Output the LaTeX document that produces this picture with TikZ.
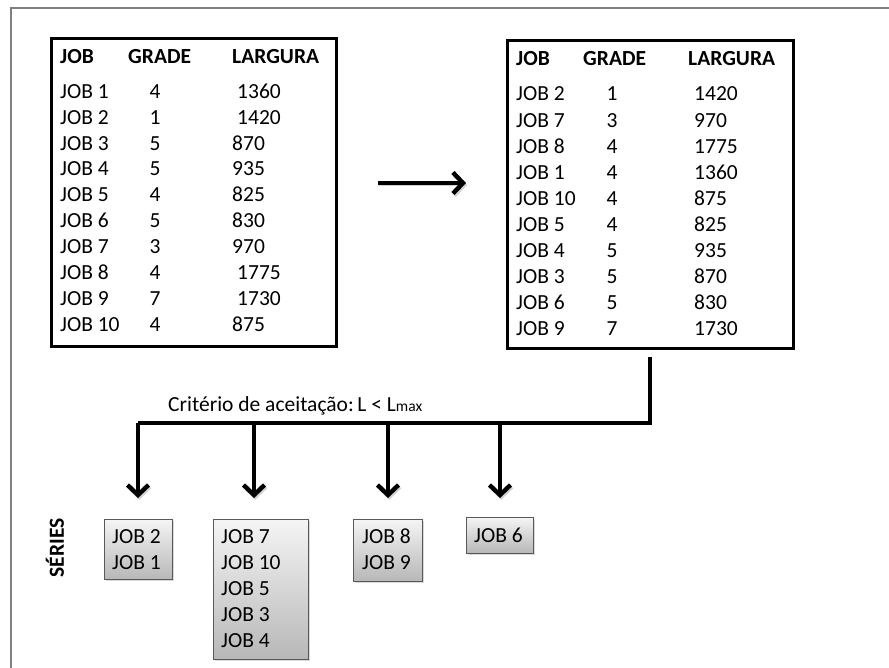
\documentclass[tikz,border=0pt]{standalone}
\usepackage{fontspec}
\setmainfont{Carlito}
\usetikzlibrary{arrows.meta,shadows}
\begin{document}
\begin{tikzpicture}[x=1pt,y=-1pt,
  txt/.style={inner sep=0pt, font=\fontsize{21.5}{24}\selectfont},
  hdr/.style={txt, font=\fontsize{21.5}{24}\selectfont\bfseries},
  tablebox/.style={draw=black, line width=3pt, inner sep=0pt},
  seriebox/.style={draw=black!65, line width=1pt, inner sep=0pt,
     top color=black!4, bottom color=black!28,
     drop shadow={shadow xshift=1.5pt, shadow yshift=-1.5pt, opacity=0.25, fill=black!60}},
  conn/.style={line width=4pt, black,
     preaction={draw=black, opacity=0.18, transform canvas={shift={(1.2pt,-1.8pt)}}}},
  arr/.style={conn, -{Straight Barb[length=10pt,width=21pt,line width=4.4pt]}},
  frame/.style={draw=black!50, line width=1.3pt}
]
\useasboundingbox (0,0) rectangle (889,668);
\draw[frame] (11,668) -- (11,8) -- (889,8);

% left table
\node[tablebox, minimum width=285pt, minimum height=308pt] (L) at (193.5,193) {};
\node[hdr, anchor=base west] (Lh1) at (60,63.3) {JOB};
\node[hdr, anchor=base west] (Lh2) at (128,63.3) {GRADE};
\node[hdr, anchor=base west] (Lh3) at (232,63.3) {LARGURA};
\foreach \j/\g/\w/\wx [count=\i from 0] in {JOB 1/4/1360/237, JOB 2/1/1420/237, JOB 3/5/870/232, JOB 4/5/935/232, JOB 5/4/825/232, JOB 6/5/830/232, JOB 7/3/970/232, JOB 8/4/1775/237, JOB 9/7/1730/237, JOB 10/4/875/232}{
  \node[txt, anchor=base west] (La\i) at (60,98.3+25.9*\i) {\j};
  \node[txt, anchor=base] (Lb\i) at (155,98.3+25.9*\i) {\g};
  \node[txt, anchor=base west] (Lc\i) at (\wx,98.3+25.9*\i) {\w};
}

% right table
\node[tablebox, minimum width=286pt, minimum height=308pt] (R) at (650,195) {};
\node[hdr, anchor=base west] (Rh1) at (516,65.7) {JOB};
\node[hdr, anchor=base west] (Rh2) at (583,65.7) {GRADE};
\node[hdr, anchor=base west] (Rh3) at (688,65.7) {LARGURA};
\foreach \j/\g/\w [count=\i from 0] in {JOB 2/1/1420, JOB 7/3/970, JOB 8/4/1775, JOB 1/4/1360, JOB 10/4/875, JOB 5/4/825, JOB 4/5/935, JOB 3/5/870, JOB 6/5/830, JOB 9/7/1730}{
  \node[txt, anchor=base west] (Ra\i) at (516,101+26.1*\i) {\j};
  \node[txt, anchor=base] (Rb\i) at (612,101+26.1*\i) {\g};
  \node[txt, anchor=base west] (Rc\i) at (694,101+26.1*\i) {\w};
}

% arrow between tables
\coordinate (m1) at (378,183);
\coordinate (m2) at (466,183);
\draw[arr] (m1) -- (m2);

% criterion
\node[txt, anchor=base west] (crit) at (168,411.7) {Critério de aceitação:\,L < L{\fontsize{15.5}{16}\selectfont max}};

% series boxes
\node[seriebox, minimum width=68pt, minimum height=60pt] (S1) at (138,549) {};
\node[seriebox, minimum width=95pt, minimum height=140pt] (S2) at (260.5,589) {};
\node[seriebox, minimum width=69pt, minimum height=62pt] (S3) at (387.5,550) {};
\node[seriebox, minimum width=67pt, minimum height=36pt] (S4) at (499.5,535) {};

\node[txt, anchor=base west] (s1a) at (112,543) {JOB 2};
\node[txt, anchor=base west] (s1b) at (112,569) {JOB 1};
\foreach \j [count=\i from 0] in {JOB 7, JOB 10, JOB 5, JOB 3, JOB 4}{
  \node[txt, anchor=base west] (s2\i) at (221,543+26*\i) {\j};
}
\node[txt, anchor=base west] (s3a) at (362,543) {JOB 8};
\node[txt, anchor=base west] (s3b) at (362,569) {JOB 9};
\node[txt, anchor=base west] (s4a) at (474,542) {JOB 6};

\node[hdr, rotate=90] (series) at (55,548) {SÉRIES};

% distribution connector
\coordinate (bus) at (650,422.5);
\coordinate (b1) at (138,422.5);
\coordinate (b2) at (254,422.5);
\coordinate (b3) at (388,422.5);
\coordinate (b4) at (500,422.5);
\coordinate (t1) at (138,498);
\coordinate (t2) at (254,498);
\coordinate (t3) at (388,498);
\coordinate (t4) at (500,498);
\draw[conn] ([yshift=-6pt]R.south) -- (bus) -- (b1);
\draw[arr] (b1) -- (t1);
\draw[arr] (b2) -- (t2);
\draw[arr] (b3) -- (t3);
\draw[arr] (b4) -- (t4);
\end{tikzpicture}
\end{document}
